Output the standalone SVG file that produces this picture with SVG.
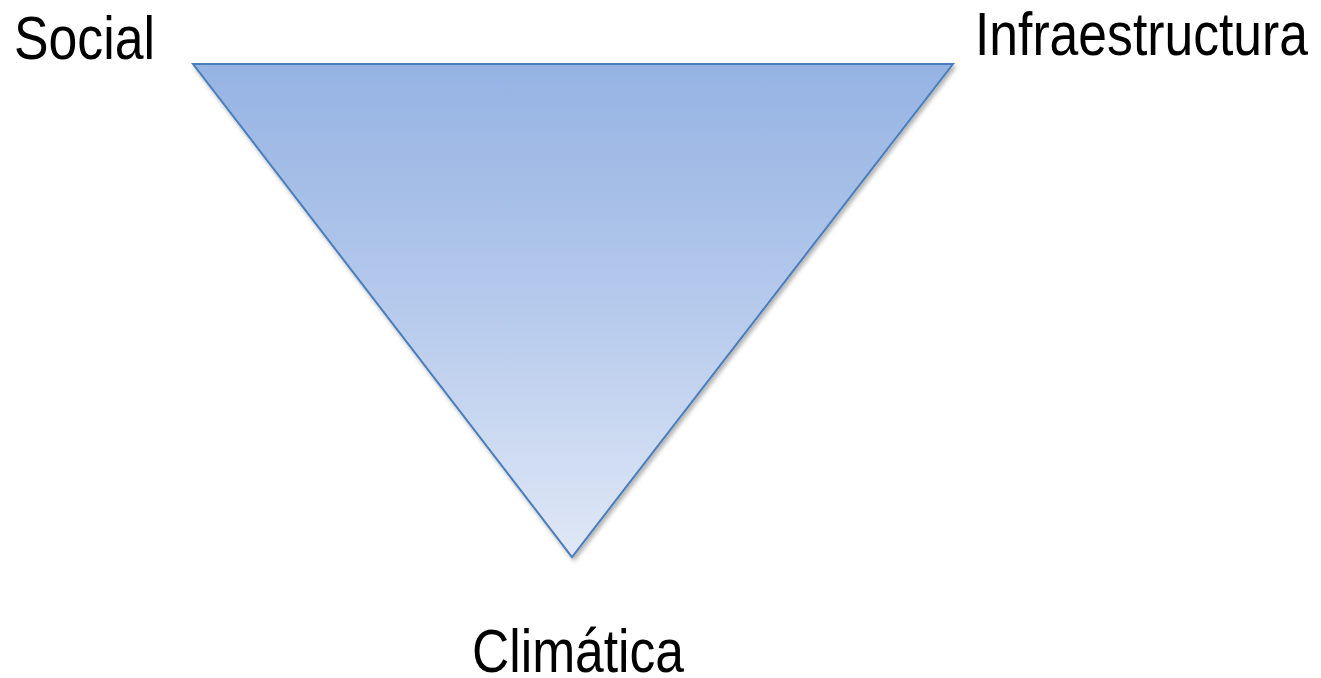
<svg xmlns="http://www.w3.org/2000/svg" width="1321" height="678" viewBox="0 0 1321 678">
<defs>
<linearGradient id="g" x1="0" y1="64" x2="0" y2="557" gradientUnits="userSpaceOnUse">
<stop offset="0" stop-color="#95b3e3"/>
<stop offset="0.5" stop-color="#b6caec"/>
<stop offset="1" stop-color="#e0e8f6"/>
</linearGradient>
<filter id="sh" x="-10%" y="-10%" width="120%" height="120%">
<feDropShadow dx="2" dy="3" stdDeviation="2" flood-color="#000" flood-opacity="0.3"/>
</filter>
<style>
.lbl{font-family:"Liberation Sans",Arial,sans-serif;font-size:62px;fill:#000}
</style>
</defs>
<rect width="1321" height="678" fill="#fff"/>
<g id="triangle">
<polygon points="193,64 953,64 572,557" fill="url(#g)" stroke="#4a7ebb" stroke-width="2" stroke-linejoin="miter" filter="url(#sh)"/>
</g>
<g id="social"><text class="lbl" x="14" y="59" textLength="141" lengthAdjust="spacingAndGlyphs">Social</text></g>
<g id="infraestructura"><text class="lbl" x="975" y="55" textLength="333" lengthAdjust="spacingAndGlyphs">Infraestructura</text></g>
<g id="climatica"><text class="lbl" x="472" y="672" textLength="212" lengthAdjust="spacingAndGlyphs">Climática</text></g>
<g id="connectors"/>
</svg>
